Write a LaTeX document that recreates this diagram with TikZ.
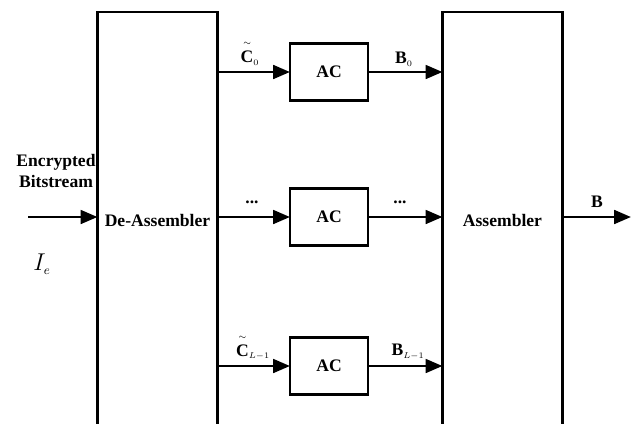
\documentclass[tikz,border=0pt]{standalone}
\usepackage{fontspec}
\setmainfont{Liberation Serif}
\usepackage{amsmath}
\usetikzlibrary{arrows.meta,positioning}
\newcommand{\tildeC}{\overset{\raisebox{1.5pt}{$\scriptscriptstyle\sim$}}{\mathbf{C}}}
\tikzset{
    bigblock/.style={draw, line width=2pt, minimum width=3.0cm, minimum height=10.4cm,
    font=\fontsize{12.5}{15}\selectfont\bfseries, inner sep=0pt, outer sep=0pt},
    acblock/.style={draw, line width=2pt, minimum width=1.95cm, minimum height=1.43cm,
    font=\fontsize{12.5}{15}\selectfont\bfseries, inner sep=0pt, outer sep=0pt},
    sig/.style={line width=2pt, -{Triangle[length=0.42cm,width=0.34cm]}},
    siglabel/.style={font=\fontsize{12.5}{15}\selectfont\bfseries, inner sep=1pt},
}
\begin{document}
\begin{tikzpicture}[x=0.025cm, y=-0.025cm]
    \useasboundingbox (0,0) rectangle (631,423);
    % --- big blocks ---
    \node[bigblock] (deasm) at (157.5,220) {De-Assembler};
    \node[bigblock] (asm) at (502.5,220) {Assembler};
    % --- arithmetic coders ---
    \node[acblock] (ac1) at (329,72) {AC};
    \node[acblock] (ac2) at (329,217) {AC};
    \node[acblock] (ac3) at (329,366) {AC};
    % --- input and output ---
    \coordinate (in) at (28,217);
    \coordinate (out) at (631,217);
    \node[siglabel, align=center] (enc) at (56,171) {Encrypted\\Bitstream};
    \node[font=\fontsize{19}{22}\selectfont] (ie) at (42,264) {$I_{\scriptscriptstyle e}$};
    \draw[sig] (in) -- (in -| deasm.west);
    \draw[sig] (out -| asm.east) -- (out);
    \node[siglabel] (bout) at (597,202) {B};
    % --- branches ---
    \draw[sig] (ac1.west -| deasm.east) -- (ac1.west);
    \draw[sig] (ac2.west -| deasm.east) -- (ac2.west);
    \draw[sig] (ac3.west -| deasm.east) -- (ac3.west);
    \draw[sig] (ac1.east) -- (ac1.east -| asm.west);
    \draw[sig] (ac2.east) -- (ac2.east -| asm.west);
    \draw[sig] (ac3.east) -- (ac3.east -| asm.west);
    \node[siglabel] (c0) at (250,53) {$\tildeC_{\scriptscriptstyle 0}$};
    \node[siglabel] (b0) at (404,59) {$\mathbf{B}_{\scriptscriptstyle 0}$};
    \node[siglabel] (cdots) at (252,202) {...};
    \node[siglabel] (bdots) at (400,202) {...};
    \node[siglabel] (cl) at (253,347) {$\tildeC_{\scriptscriptstyle L-1}$};
    \node[siglabel] (bl) at (408,352) {$\mathbf{B}_{\scriptscriptstyle L-1}$};
\end{tikzpicture}
\end{document}
